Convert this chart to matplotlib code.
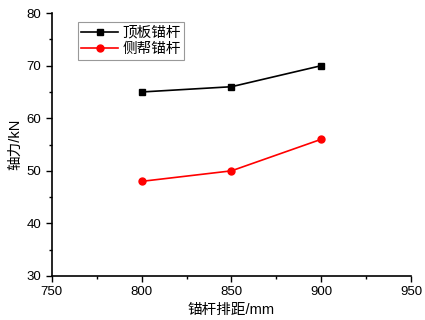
import matplotlib
matplotlib.use('Agg')
import matplotlib.pyplot as plt
from matplotlib.ticker import MultipleLocator

plt.rcParams['font.family'] = ['Liberation Sans', 'Noto Sans CJK SC']

# data
spacing = [800, 850, 900]
roof_bolt = [65, 66, 70]
side_bolt = [48, 50, 56]

fig = plt.figure(figsize=(4.25, 3.2), dpi=100)
ax = fig.add_axes([0.122, 0.1375, 0.845, 0.8215])

ax.plot(spacing, roof_bolt, color='black', marker='s', markersize=5, lw=1.2, label='顶板锚杆')
ax.plot(spacing, side_bolt, color='red', marker='o', markersize=5, lw=1.2, label='侧帮锚杆')

ax.set_xlim(750, 950)
ax.set_ylim(30, 80)
ax.xaxis.set_major_locator(MultipleLocator(50))
ax.xaxis.set_minor_locator(MultipleLocator(25))
ax.yaxis.set_major_locator(MultipleLocator(10))
ax.yaxis.set_minor_locator(MultipleLocator(5))
ax.tick_params(which='both', direction='out', labelsize=9.5, width=1)
ax.tick_params(which='major', length=4)
ax.tick_params(which='minor', length=2.5)
for s in ['top', 'right']:
    ax.spines[s].set_visible(False)
for s in ['left', 'bottom']:
    ax.spines[s].set_linewidth(1.2)

ax.set_xlabel('锚杆排距/mm', fontsize=10.5, labelpad=3)
ax.set_ylabel('轴力/kN', fontsize=10.5, labelpad=3)

leg = ax.legend(loc='upper left', bbox_to_anchor=(0.072, 0.966), fontsize=10.5,
                fancybox=False, edgecolor='gray', handlelength=2.5,
                borderpad=0.25, labelspacing=0.15, handletextpad=0.3,
                borderaxespad=0)
leg.get_frame().set_linewidth(0.8)

fig.savefig('out.png', dpi=100)
